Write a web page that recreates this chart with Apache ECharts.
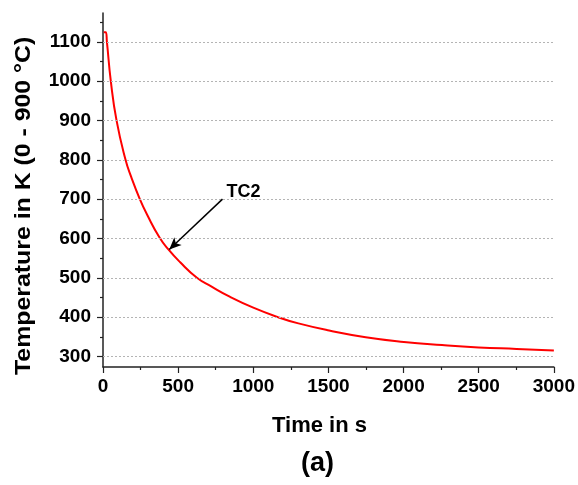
<!DOCTYPE html>
<html>
<head>
<meta charset="utf-8">
<script src="https://cdn.jsdelivr.net/npm/echarts@6/dist/echarts.min.js"></script>
<style>
html,body{margin:0;padding:0;background:#fff;}
#chart{width:578px;height:485px;}
</style>
</head>
<body>
<div id="chart"></div>
<script>
// Data
var timeS = [5, 18, 26, 52, 90, 150, 187, 245, 298, 375, 435, 512, 625, 720, 843, 1000, 1163, 1300, 1505, 1748, 2002, 2256, 2499, 2752, 3000];
var tempK = [1124, 1124, 1100, 1000, 900, 800, 757, 700, 657, 603, 572, 540, 500, 478, 452, 424, 400, 384, 366, 349, 337, 329, 323, 319, 315];
var yMajorTicks = [300, 400, 500, 600, 700, 800, 900, 1000, 1100];
var yMinorTicks = [350, 450, 550, 650, 750, 850, 950, 1050, 1150];
var yRange = [273.15, 1173.15];   // 0 - 900 °C in K
var xRange = [0, 3000];
var xInterval = 500;
var annotationText = 'TC2';
var arrowFrom = [795, 700];
var arrowTo = [441, 572];
var yAxisTitle = 'Temperature in K (0 - 900 \u00B0C)';
var xAxisTitle = 'Time in s';
var panelLabel = '(a)';

var seriesData = timeS.map(function (t, i) { return [t, tempK[i]]; });
var FONT = 'Liberation Sans, Arial, sans-serif';
function plain(v) { return String(Math.round(v)); }

var chart = echarts.init(document.getElementById('chart'), null, {renderer: 'canvas'});
chart.setOption({
  animation: false,
  backgroundColor: '#ffffff',
  grid: {left: 103, right: 22, top: 13, bottom: 118, containLabel: false},
  xAxis: {
    type: 'value', min: xRange[0], max: xRange[1], interval: xInterval,
    axisLine: {show: true, onZero: false, lineStyle: {color: '#222', width: 1.5}},
    axisTick: {show: true, length: 6, lineStyle: {color: '#222', width: 1.2}},
    minorTick: {show: true, splitNumber: 2, length: 3, lineStyle: {color: '#222', width: 1.2}},
    splitLine: {show: false},
    axisLabel: {formatter: plain, color: '#000', fontFamily: FONT, fontWeight: 'bold', fontSize: 19, margin: 10, showMaxLabel: true}
  },
  yAxis: [{
    type: 'value', min: yRange[0], max: yRange[1], position: 'left',
    axisLine: {show: true, onZero: false, lineStyle: {color: '#222', width: 1.5}},
    axisTick: {show: true, length: 6, customValues: yMajorTicks, lineStyle: {color: '#222', width: 1.2}},
    axisLabel: {customValues: yMajorTicks, formatter: plain, color: '#000', fontFamily: FONT, fontWeight: 'bold', fontSize: 19, margin: 12},
    splitLine: {show: false}
  }, {
    type: 'value', min: yRange[0], max: yRange[1], position: 'left', offset: 0,
    axisLine: {show: false},
    axisTick: {show: true, length: 3, customValues: yMinorTicks, lineStyle: {color: '#222', width: 1.2}},
    axisLabel: {show: false},
    splitLine: {show: false}
  }],
  series: [{
    type: 'line',
    data: seriesData,
    showSymbol: false,
    smooth: 0.5,
    lineStyle: {color: '#ff0000', width: 2},
    z: 3,
    markLine: {
      silent: true,
      symbol: ['none', 'none'],
      label: {show: false},
      lineStyle: {color: '#b4b4b4', type: [2, 2], width: 1},
      data: yMajorTicks.map(function (v) { return [{coord: [xRange[0], v]}, {coord: [xRange[1], v]}]; })
    }
  }, {
    type: 'line',
    data: [],
    z: 5,
    markLine: {
      silent: true,
      symbol: ['none', 'arrow'],
      symbolSize: [8, 12],
      label: {show: false},
      lineStyle: {color: '#000', type: 'solid', width: 1.5},
      data: [[{coord: arrowFrom}, {coord: arrowTo}]]
    },
    markPoint: {
      silent: true,
      symbol: 'circle', symbolSize: 0,
      label: {show: true, position: 'right', distance: 4, offset: [0, -7], formatter: annotationText,
        color: '#000', fontFamily: FONT, fontWeight: 'bold', fontSize: 18},
      data: [{coord: arrowFrom}]
    }
  }],
  graphic: [{
    type: 'text', top: 415, left: 272,
    style: {text: xAxisTitle, fill: '#000', font: 'bold 22px ' + FONT}
  }, {
    type: 'text', top: 450, left: 301,
    style: {text: panelLabel, fill: '#000', font: 'bold 27px ' + FONT}
  }, {
    type: 'text', x: 13, y: 375, rotation: Math.PI / 2, scaleX: 1.13,
    style: {text: yAxisTitle, fill: '#000', font: 'bold 22px ' + FONT, textAlign: 'left', textVerticalAlign: 'top'}
  }]
});
</script>
</body>
</html>
